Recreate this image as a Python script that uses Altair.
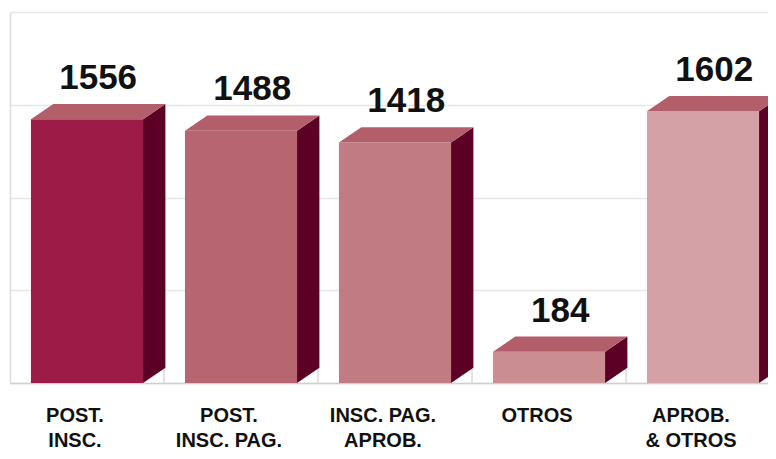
import altair as alt
import pandas as pd

categories = ["POST.\nINSC.", "POST.\nINSC. PAG.", "INSC. PAG.\nAPROB.", "OTROS", "APROB.\n& OTROS"]
values = [1556, 1488, 1418, 184, 1602]
front_colors = ["#9D1B47", "#B76570", "#C17C83", "#CA8D92", "#D4A2A6"]
top_color = "#B25F6B"
side_color = "#5C0025"
grid_ticks = [0, 547, 1094, 1641, 2188]

HALF = 0.364   # half of the front-face width, in category units
DX = 0.145     # 3D depth along x, in category units
DY = 90        # 3D depth along y, in value units

n = len(values)
base = pd.DataFrame({"idx": list(range(n)), "cat": categories, "value": values, "color": front_colors})

# two rows per bar (front edge / back edge) for the side and top faces
rows = []
for i, v in enumerate(values):
    for p in (0, 1):
        rows.append({"idx": i, "p": p, "value": v})
faces = pd.DataFrame(rows)

bounds = pd.DataFrame({"b": [i + 0.5 for i in range(n - 1)]})

xs = alt.Scale(domain=[-0.5, 4.422], nice=False, zero=False)
ys = alt.Scale(domain=[0, 2188], nice=False)

front = alt.Chart(base).transform_calculate(
    x1=f"datum.idx - {HALF}", x2=f"datum.idx + {HALF}"
).mark_rect(clip=True).encode(
    x=alt.X("x1:Q", scale=xs, axis=alt.Axis(labels=False, ticks=False, grid=False, title=None,
                                            domain=True, domainColor="#cfcfcf", domainWidth=1.5)),
    x2="x2:Q",
    y=alt.Y("value:Q", scale=ys, axis=alt.Axis(values=grid_ticks, labels=False, ticks=False, title=None,
                                              grid=True, gridColor="#e6e6e6", gridWidth=1.5,
                                              domain=True, domainColor="#dcdcdc", domainWidth=1.5)),
    y2=alt.Y2(datum=0),
    color=alt.Color("color:N", scale=None),
)

floor_ticks = alt.Chart(bounds).mark_rule(color="#cfcfcf", strokeWidth=1.2).encode(
    x=alt.X("b:Q", scale=xs),
    y=alt.Y(datum=0, scale=ys),
    y2=alt.Y2(datum=DY),
)

side = alt.Chart(faces).transform_calculate(
    sx=f"datum.idx + {HALF} + datum.p * {DX}",
    sy=f"datum.value + datum.p * {DY}",
    sy2=f"datum.p * {DY}",
).mark_area(clip=True, color=side_color).encode(
    x=alt.X("sx:Q", scale=xs),
    y=alt.Y("sy:Q", scale=ys),
    y2="sy2:Q",
    detail="idx:N",
)

top = alt.Chart(faces).transform_calculate(
    ty=f"datum.value + datum.p * {DY}",
    tx=f"datum.idx - {HALF} + datum.p * {DX}",
    tx2=f"datum.idx + {HALF} + datum.p * {DX}",
).mark_area(clip=True, color=top_color, orient="horizontal").encode(
    y=alt.Y("ty:Q", scale=ys),
    x=alt.X("tx:Q", scale=xs),
    x2="tx2:Q",
    detail="idx:N",
)

nums = alt.Chart(base).transform_calculate(
    nx=f"datum.idx + {DX} / 2", ny=f"datum.value + {DY}"
).mark_text(font="Liberation Sans", fontWeight="bold", fontSize=35, color="#111111",
            baseline="alphabetic", align="center", dy=-15).encode(
    x=alt.X("nx:Q", scale=xs),
    y=alt.Y("ny:Q", scale=ys),
    text=alt.Text("value:Q", format="d"),
)

cats = alt.Chart(base).mark_text(font="Liberation Sans", fontWeight="bold", fontSize=20, color="#111111",
                                 baseline="alphabetic", align="center", lineBreak="\n",
                                 lineHeight=25, dx=-12).encode(
    x=alt.X("idx:Q", scale=xs),
    y=alt.value(410),
    text="cat:N",
)

chart = alt.layer(floor_ticks, front, side, top, nums, cats).properties(
    width=758, height=371,
    autosize=alt.AutoSizeParams(type="none"),
    padding={"left": 2, "top": 4, "right": 0, "bottom": 68},
).configure_view(stroke=None)

chart.save("out.html", embed_options={"renderer": "svg", "actions": False})
